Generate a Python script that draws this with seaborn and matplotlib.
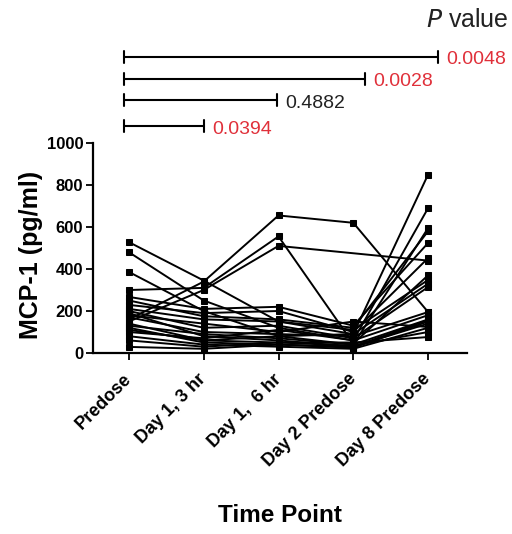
import numpy as np
import pandas as pd
import matplotlib
matplotlib.use("Agg")
import matplotlib.pyplot as plt
import seaborn as sns

timepoints = ["Predose", "Day 1, 3 hr", "Day 1,  6 hr", "Day 2 Predose", "Day 8 Predose"]

predose = [160, 300, 150, 528, 480, 386, 267, 229, 210, 200, 190, 180, 170, 140, 130, 120, 100, 80, 60, 29, 250, 110]
day1_3hr = [340, 310, 300, 345, 250, 200, 210, 190, 160, 120, 80, 140, 100, 60, 90, 50, 70, 40, 30, 20, 175, 60]
day1_6hr = [655, 555, 510, 150, 120, 80, 220, 200, 150, 130, 60, 100, 90, 50, 70, 40, 110, 30, 50, 40, 160, 80]
day2_pre = [620, 45, np.nan, 90, 60, 40, 130, 100, 110, 70, 30, 150, 80, 50, 40, 30, 60, 20, 35, 25, 120, 90]
day8_pre = [195, 370, 440, 850, 690, 595, 524, 452, 348, 314, 157, 124, 195, 76, 160, 140, 180, 120, 100, 150, 580, 330]

p_values = ["0.0394", "0.4882", "0.0028", "0.0048"]
significant = [True, False, True, True]

rows = []
series = [predose, day1_3hr, day1_6hr, day2_pre, day8_pre]
for s in range(len(predose)):
    for t, vals in enumerate(series):
        v = vals[s]
        if not np.isnan(v):
            rows.append({"subject": s, "t": t, "value": v})
df = pd.DataFrame(rows)

sns.set_style("ticks")
plt.rcParams["font.family"] = ["Liberation Sans", "DejaVu Sans"]
plt.rcParams["text.color"] = "black"
plt.rcParams["axes.labelcolor"] = "black"
plt.rcParams["xtick.color"] = "black"
plt.rcParams["ytick.color"] = "black"

fig = plt.figure(figsize=(5.12, 5.34), dpi=100)
W, H = 512, 534
ax_left, ax_right = 93 / W, 467 / W
ax_bottom, ax_top = 1 - 353 / H, 1 - 143 / H
ax = fig.add_axes([ax_left, ax_bottom, ax_right - ax_left, ax_top - ax_bottom])

sns.lineplot(data=df, x="t", y="value", units="subject", estimator=None,
             color="black", linewidth=1.4, marker="s", markersize=4.8,
             markeredgecolor="black", ax=ax, legend=False)

ax.set_xlim(-0.48, 4.52)
ax.set_ylim(0, 1000)
ax.set_yticks([0, 200, 400, 600, 800, 1000])
ax.set_yticklabels(["0", "200", "400", "600", "800", "1000"], fontsize=12, fontweight="bold")
ax.set_xticks(range(len(timepoints)))
ax.set_xticklabels(timepoints, rotation=45, ha="right", va="center",
                   rotation_mode="anchor", fontsize=13, fontweight="bold")
ax.tick_params(axis="both", direction="out", length=5, width=1.3, color="black")
ax.tick_params(axis="x", pad=12)
ax.tick_params(axis="y", pad=2)
for sp in ["top", "right"]:
    ax.spines[sp].set_visible(False)
for sp in ["left", "bottom"]:
    ax.spines[sp].set_linewidth(1.6)
    ax.spines[sp].set_color("black")

ax.set_xlabel("")
ax.set_ylabel("")
fig.text(31 / W, 1 - 255 / H, "MCP-1 (pg/ml)", fontsize=18, fontweight="bold",
         rotation=90, ha="center", va="center")
fig.text(280 / W, 1 - 515 / H, "Time Point", fontsize=17.5, fontweight="bold",
         ha="center", va="center")

# significance brackets (figure pixel coordinates converted)
bar_start = 124
bar_ends = [204, 277, 365, 438]
bar_ys = [126, 100, 79, 57]
for end, yb, pv, sig in zip(bar_ends, bar_ys, p_values, significant):
    x0, x1 = bar_start / W, end / W
    yy = 1 - yb / H
    cap = 6 / H
    fig.add_artist(plt.Line2D([x0, x1], [yy, yy], color="black", lw=1.5))
    fig.add_artist(plt.Line2D([x0, x0], [yy - cap, yy + cap], color="black", lw=1.5))
    fig.add_artist(plt.Line2D([x1, x1], [yy - cap, yy + cap], color="black", lw=1.5))
    fig.text((end + 8) / W, 1 - (yb + 3) / H, pv, fontsize=14,
             color="#e0303a" if sig else "#222222", ha="left", va="center")

fig.text(1 - 3 / W, 1 - 20 / H, r"$\it{P}$ value", fontsize=18, ha="right",
         va="center", color="#222222")

fig.savefig("out.png", dpi=100)
